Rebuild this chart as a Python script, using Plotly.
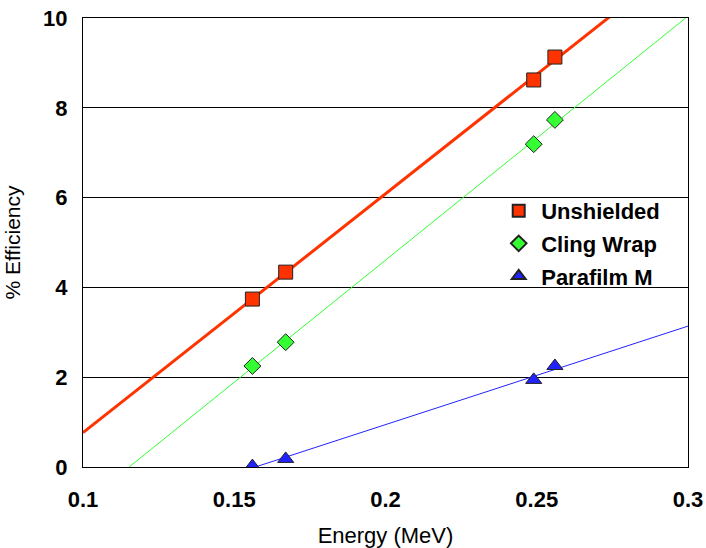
import numpy as np
import plotly.graph_objects as go

energy = [0.156, 0.167, 0.249, 0.256]
unshielded = [3.74, 4.34, 8.62, 9.13]
cling_wrap = [2.25, 2.78, 7.19, 7.73]
parafilm = [0.02, 0.18, 1.94, 2.25]
x_ticks = [0.1, 0.15, 0.2, 0.25, 0.3]
x_tick_labels = ["0.1", "0.15", "0.2", "0.25", "0.3"]
y_ticks = [0, 2, 4, 6, 8, 10]

series = [
    ("Unshielded", unshielded, "#FF3300", 3, dict(symbol="square", size=14)),
    ("Cling Wrap", cling_wrap, "#33FF33", 1, dict(symbol="diamond", size=13)),
    ("Parafilm M", parafilm, "#2222FF", 1, dict(symbol="triangle-up", size=14)),
]

fig = go.Figure()
xfit = np.array([0.1, 0.3])
for name, vals, color, lw, mk in series:
    m, b = np.polyfit(energy, vals, 1)
    fig.add_trace(go.Scatter(x=xfit, y=m * xfit + b, mode="lines",
                             line=dict(color=color, width=lw),
                             showlegend=False, hoverinfo="skip"))
for name, vals, color, lw, mk in series:
    fig.add_trace(go.Scatter(x=energy, y=vals, mode="markers", name="<b>%s</b>" % name,
                             legendgroup=name,
                             marker=dict(color=color, line=dict(color="#222222", width=1), **mk)))

fig.update_layout(
    width=706, height=548,
    margin=dict(l=83, r=18, t=18, b=81, autoexpand=False),
    paper_bgcolor="white", plot_bgcolor="white",
    font=dict(family="Liberation Sans, Arial", color="black", size=22),
    showlegend=True,
    legend=dict(x=0.683, y=0.617, xanchor="left", yanchor="top",
                bgcolor="rgba(0,0,0,0)", borderwidth=0,
                font=dict(size=22, family="Liberation Sans, Arial"),
                itemsizing="constant", itemwidth=35, tracegroupgap=1),
)
fig.update_xaxes(range=[0.1, 0.3], tickvals=x_ticks, ticktext=["<b>%s</b>" % t for t in x_tick_labels],
                 tickfont=dict(size=22), automargin=False, ticklabeloverflow="allow",
                 showgrid=False, zeroline=False, showline=True, linecolor="black", linewidth=1,
                 mirror=True, ticks="", ticklabelstandoff=13,
                 title=dict(text="Energy (MeV)", font=dict(size=22), standoff=17))
fig.update_yaxes(range=[0, 10], tickvals=y_ticks, ticktext=["<b>%d</b>" % t for t in y_ticks],
                 tickfont=dict(size=22), automargin=False, ticklabeloverflow="allow",
                 showgrid=True, gridcolor="black", gridwidth=1, zeroline=False,
                 showline=True, linecolor="black", linewidth=1, mirror=True, ticks="",
                 ticklabelstandoff=10,
                 title=dict(text="% Efficiency", font=dict(size=21), standoff=16))

fig.write_html("out.html", config={"displayModeBar": False},
               post_script="document.body.style.margin='0';")
